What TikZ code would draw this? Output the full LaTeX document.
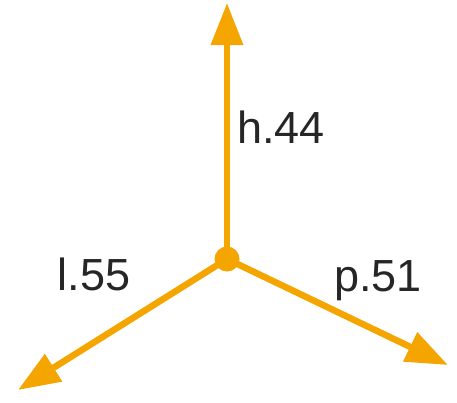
\documentclass[tikz,border=0pt]{standalone}
\usepackage{fontspec}
\setmainfont{Liberation Sans}
\usetikzlibrary{arrows.meta}
\definecolor{org}{RGB}{245,165,0}
\begin{document}
\begin{tikzpicture}[x=1pt,y=-1pt,
  vec/.style={draw=org,line width=6.5pt,-{Triangle[length=42pt,width=31pt]}},
  lbl/.style={font=\fontsize{45}{45}\selectfont,text=black!85,anchor=base,inner sep=0pt}]
\useasboundingbox[fill=white] (0,0) rectangle (457,402);
\coordinate (o) at (227,259);
\coordinate (u) at (227,3);
\coordinate (r) at (448,365);
\coordinate (l) at (18,390);
\draw[vec] (o) -- (u);
\draw[vec] (o) -- (r);
\draw[vec] (o) -- (l);
\fill[org] (o) circle (12.5pt);
\node[lbl] (h) at (281,143) {h.44};
\node[lbl] (ll) at (94,290) {l.55};
\node[lbl] (p) at (378,291) {p.51};
\end{tikzpicture}
\end{document}
